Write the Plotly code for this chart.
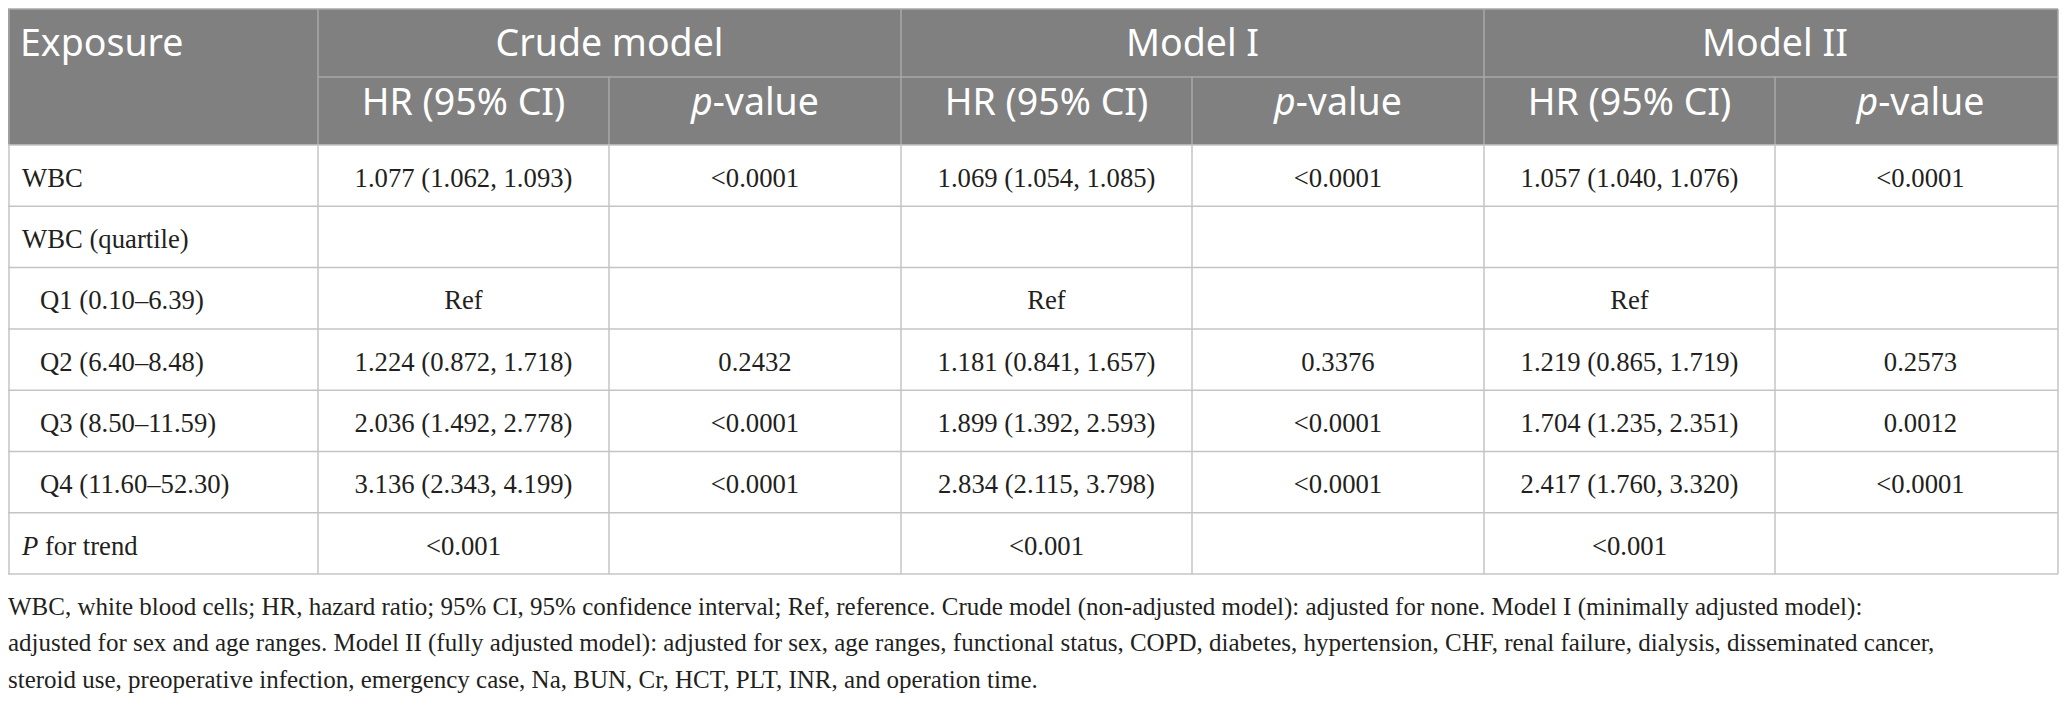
import plotly.graph_objects as go

# table content
exposure = ["WBC", "WBC (quartile)", "Q1 (0.10–6.39)", "Q2 (6.40–8.48)",
            "Q3 (8.50–11.59)", "Q4 (11.60–52.30)", "<i>P</i> for trend"]
indented = [False, False, True, True, True, True, False]
models = ["Crude model", "Model I", "Model II"]
sub_heads = ["HR (95% CI)", "<i>p</i>-value"]

crude_hr = ["1.077 (1.062, 1.093)", "", "Ref", "1.224 (0.872, 1.718)",
            "2.036 (1.492, 2.778)", "3.136 (2.343, 4.199)", "<0.001"]
crude_p = ["<0.0001", "", "", "0.2432", "<0.0001", "<0.0001", ""]
model1_hr = ["1.069 (1.054, 1.085)", "", "Ref", "1.181 (0.841, 1.657)",
             "1.899 (1.392, 2.593)", "2.834 (2.115, 3.798)", "<0.001"]
model1_p = ["<0.0001", "", "", "0.3376", "<0.0001", "<0.0001", ""]
model2_hr = ["1.057 (1.040, 1.076)", "", "Ref", "1.219 (0.865, 1.719)",
             "1.704 (1.235, 2.351)", "2.417 (1.760, 3.320)", "<0.001"]
model2_p = ["<0.0001", "", "", "0.2573", "0.0012", "<0.0001", ""]

footnote = [
    "WBC, white blood cells; HR, hazard ratio; 95% CI, 95% confidence interval; Ref, reference. "
    "Crude model (non-adjusted model): adjusted for none. Model I (minimally adjusted model):",
    "adjusted for sex and age ranges. Model II (fully adjusted model): adjusted for sex, age ranges, "
    "functional status, COPD, diabetes, hypertension, CHF, renal failure, dialysis, disseminated cancer,",
    "steroid use, preoperative infection, emergency case, Na, BUN, Cr, HCT, PLT, INR, and operation time.",
]

# page has an 8px body margin, so the figure is drawn smaller and the
# axes are shifted so that one data unit == one screen pixel
OFF = 8
W, H = 2067 - 2 * OFF, 706 - 2 * OFF
col_edges = [0, 318, 609, 901, 1192, 1484, 1775, 2066]
right_line = OFF + W - 1
top, mid, head_bot = 9, 77, 145
row_h = 61.3
n_rows = len(exposure)
row_edges = [head_bot + i * row_h for i in range(n_rows + 1)]
# plotly puts a middle-aligned text baseline at y + 0.25 * font size
row_mid = [(row_edges[i] + row_edges[i + 1]) / 2 + 4.5 for i in range(n_rows)]

HEAD_BG = "#808080"
HEAD_LINE = "#a9a9a9"
BODY_LINE = "#c4c4c4"
SANS = "Noto Sans"
SERIF = "Liberation Serif"
INK = "#231f20"


def esc(s):
    return s.replace("<0", "&lt;0")


def xline(x):
    return min(max(x, OFF + 1), right_line)


fig = go.Figure()
shapes = []

# header background
shapes.append(dict(type="rect", x0=OFF, x1=right_line, y0=top, y1=head_bot,
                   fillcolor=HEAD_BG, line=dict(width=0), layer="below"))
# header lines
shapes.append(dict(type="line", x0=col_edges[1], x1=right_line, y0=mid, y1=mid,
                   line=dict(color=HEAD_LINE, width=1.5)))
for i, x in enumerate(col_edges):
    y0 = top if i in (0, 1, 3, 5, 7) else mid
    shapes.append(dict(type="line", x0=xline(x), x1=xline(x), y0=y0, y1=head_bot,
                       line=dict(color=HEAD_LINE, width=1.5)))
shapes.append(dict(type="line", x0=OFF, x1=right_line, y0=top, y1=top,
                   line=dict(color=HEAD_LINE, width=1.5)))
# body lines
for y in row_edges:
    shapes.append(dict(type="line", x0=OFF, x1=right_line, y0=y, y1=y,
                       line=dict(color=BODY_LINE, width=1.5)))
for x in col_edges:
    shapes.append(dict(type="line", x0=xline(x), x1=xline(x), y0=head_bot, y1=row_edges[-1],
                       line=dict(color=BODY_LINE, width=1.5)))

# header text
head_font = dict(family=SANS, size=37.5, color="white")
fig.add_trace(go.Scatter(x=[20], y=[47], text=["Exposure"], mode="text",
                         textposition="middle right", textfont=head_font))
model_x = [(col_edges[1 + 2 * k] + col_edges[3 + 2 * k]) / 2 for k in range(len(models))]
fig.add_trace(go.Scatter(x=model_x, y=[47] * len(models), text=models, mode="text",
                         textposition="middle center", textfont=head_font))
sub_x = [(col_edges[j] + col_edges[j + 1]) / 2 for j in range(1, 7)]
fig.add_trace(go.Scatter(x=sub_x, y=[106] * 6, text=sub_heads * 3, mode="text",
                         textposition="middle center", textfont=head_font))

# first column
body_font = dict(family=SERIF, size=26.7, color=INK)
fig.add_trace(go.Scatter(x=[40 if ind else 22 for ind in indented], y=row_mid,
                         text=exposure, mode="text", textposition="middle right",
                         textfont=body_font))

# value columns
for j, col in enumerate([crude_hr, crude_p, model1_hr, model1_p, model2_hr, model2_p]):
    fig.add_trace(go.Scatter(x=[sub_x[j]] * n_rows, y=row_mid,
                             text=[esc(v) for v in col], mode="text",
                             textposition="middle center", textfont=body_font))

# footnote
fig.add_trace(go.Scatter(x=[OFF] * len(footnote), y=[609, 645, 682], text=footnote,
                         mode="text", textposition="middle right",
                         textfont=dict(family=SERIF, size=25, color=INK)))

fig.update_layout(
    width=W, height=H,
    margin=dict(l=0, r=0, t=0, b=0),
    paper_bgcolor="white", plot_bgcolor="white",
    showlegend=False,
    shapes=shapes,
    xaxis=dict(range=[OFF, OFF + W], visible=False, fixedrange=True),
    yaxis=dict(range=[OFF + H, OFF], visible=False, fixedrange=True),
)
for tr in fig.data:
    tr.hoverinfo = "skip"
    tr.cliponaxis = False

fig.write_html("out.html")
